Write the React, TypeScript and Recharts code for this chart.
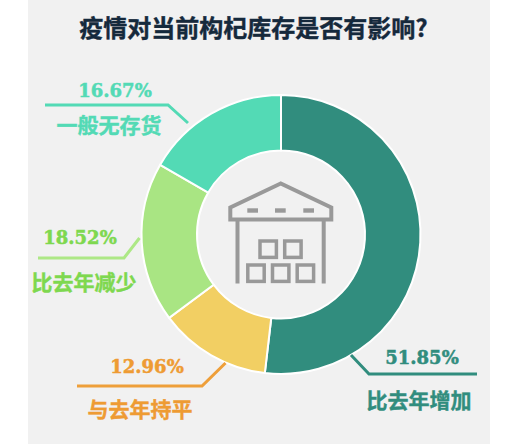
import React from "react";
import { PieChart, Pie, Cell } from "recharts";

const title = "疫情对当前构杞库存是否有影响?";
const categories = ["比去年增加", "与去年持平", "比去年减少", "一般无存货"];
const values = [51.85, 12.96, 18.52, 16.67];
const sliceColors = ["#318d7e", "#f2cf63", "#a9e583", "#53dab5"];
const textColors = ["#318d7e", "#ee9b33", "#7ed84f", "#53dab5"];
const lineColors = ["#318d7e", "#ee9f3a", "#ade886", "#53dab5"];

// annotation layout, index-aligned with categories
const leaderPaths = [
  "M351 355L369 374L477 374",
  "M225.500 363L202 386L77 386",
  "M139.500 238L124 258L38 258",
  "M188 123L168 105L45 105",
];
const pctPos = [[422, 363.5], [147, 372.5], [80, 243.5], [115, 96.5]];
const namePos = [[419, 408], [140, 417], [84, 290], [109, 133]];

const data = categories.map((name, i) => ({ name, value: values[i] }));
const cjk = '"Noto Sans CJK SC", sans-serif';
const gray = "#999999";

const boxes = [
  [260, 241], [284.7, 241],
  [247.8, 265], [272.5, 265], [297.2, 265],
];
const vents = [247.3, 275, 303.3];

export default function App() {
  return (
    <div style={{ position: "absolute", left: 0, top: 0, width: 507, height: 448, background: "#ffffff" }}>
      <div style={{ position: "absolute", left: 28, top: 0, width: 462, height: 444, background: "#f1f1f1" }} />
      <div style={{ position: "absolute", left: 0, top: 0 }}>
        <PieChart width={507} height={448} margin={{ top: 0, right: 0, bottom: 0, left: 0 }}>
          <Pie
            data={data}
            dataKey="value"
            nameKey="name"
            cx={281}
            cy={234.5}
            innerRadius={84}
            outerRadius={139.5}
            startAngle={90}
            endAngle={-270}
            stroke="#ffffff"
            strokeWidth={2}
            isAnimationActive={false}
          >
            {data.map((d, i) => (
              <Cell key={d.name} fill={sliceColors[i]} />
            ))}
          </Pie>
        </PieChart>
      </div>
      <svg width={507} height={448} style={{ position: "absolute", left: 0, top: 0 }}>
        <text x={253.5} y={37} textAnchor="middle" fontFamily={cjk} fontWeight={700} fontSize={24} fill="#15293c" stroke="#15293c" strokeWidth={0.4}>
          {title}
        </text>
        {categories.map((name, i) => (
          <g key={name}>
            <path d={leaderPaths[i]} fill="none" stroke={lineColors[i]} strokeWidth={3} />
            <text x={pctPos[i][0]} y={pctPos[i][1]} textAnchor="middle" fontFamily='"DejaVu Serif", serif' fontWeight={700} fontSize={18} fill={textColors[i]} stroke={textColors[i]} strokeWidth={0.5}>
              {values[i].toFixed(2)}%
            </text>
            <text x={namePos[i][0]} y={namePos[i][1]} textAnchor="middle" fontFamily={cjk} fontWeight={700} fontSize={21} fill={textColors[i]} stroke={textColors[i]} strokeWidth={0.4}>
              {name}
            </text>
          </g>
        ))}
        <g fill="none" stroke={gray} strokeWidth={4}>
          <path d="M280.700 183.500L230.300 207.500L230.300 219.500L331.300 219.500L331.300 207.500Z" />
          <path d="M237.500 220V283.500M323.700 220V283.500" />
        </g>
        {vents.map((x) => (
          <rect key={x} x={x} y={208.300} width={10.700} height={4.400} fill={gray} />
        ))}
        {boxes.map(([x, y]) => (
          <rect key={`${x}-${y}`} x={x} y={y} width={16.400} height={16.400} fill="none" stroke={gray} strokeWidth={3.500} />
        ))}
      </svg>
    </div>
  );
}
